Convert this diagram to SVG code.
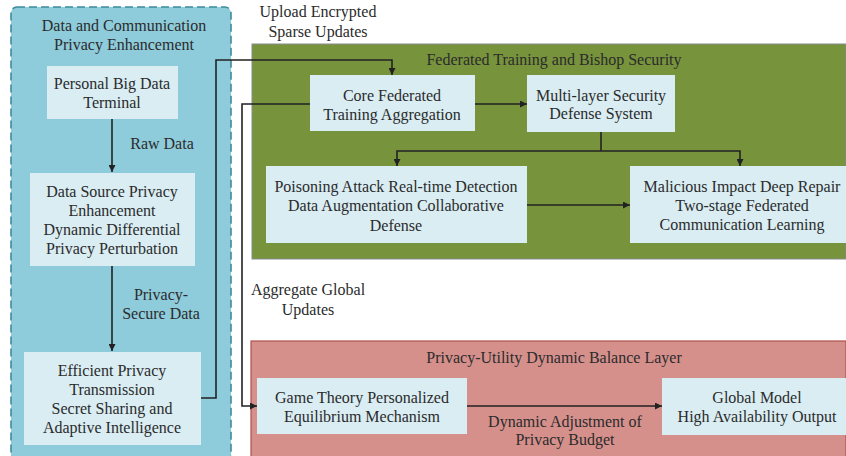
<svg xmlns="http://www.w3.org/2000/svg" width="846" height="456" viewBox="0 0 846 456">
  <style>
    text { font-family: "Liberation Serif", "Times New Roman", serif; font-size: 16px; fill: #2b2b2b; text-anchor: middle; }
    .box { fill: #d9edf3; }
    .conn { fill: none; stroke: #222; stroke-width: 1.6; }
  </style>
  <defs>
    <marker id="arr" viewBox="0 0 10 10" refX="10" refY="5" markerWidth="7" markerHeight="7" markerUnits="userSpaceOnUse" orient="auto">
      <path d="M0,0 L10,5 L0,10 z" fill="#222"/>
    </marker>
  </defs>

  <!-- Panels -->
  <g id="panel-privacy">
    <rect x="11" y="7" width="220" height="460" rx="6" fill="#8ecbdb" stroke="#3d8c9c" stroke-width="1.6" stroke-dasharray="8 4"/>
    <text x="124" y="31">Data and Communication</text>
    <text x="124" y="50">Privacy Enhancement</text>
  </g>
  <g id="panel-federated">
    <rect x="252" y="44" width="594" height="215" fill="#77933c" stroke="#8a8a8a" stroke-width="1"/>
    <text x="554" y="65">Federated Training and Bishop Security</text>
  </g>
  <g id="panel-balance">
    <rect x="251" y="341" width="595" height="118" fill="#d6908c" stroke="#b0504d" stroke-width="1.2"/>
    <text x="554" y="363">Privacy-Utility Dynamic Balance Layer</text>
  </g>

  <!-- Nodes -->
  <g id="terminal">
    <rect class="box" x="47" y="66" width="131" height="53"/>
    <text x="112" y="89">Personal Big Data</text>
    <text x="112" y="108">Terminal</text>
  </g>
  <g id="source-enhancement">
    <rect class="box" x="30" y="173" width="165" height="93"/>
    <text x="112" y="197">Data Source Privacy</text>
    <text x="112" y="216">Enhancement</text>
    <text x="112" y="235">Dynamic Differential</text>
    <text x="112" y="254">Privacy Perturbation</text>
  </g>
  <g id="transmission">
    <rect class="box" x="24" y="352" width="177" height="93"/>
    <text x="112" y="376">Efficient Privacy</text>
    <text x="112" y="395">Transmission</text>
    <text x="112" y="414">Secret Sharing and</text>
    <text x="112" y="433">Adaptive Intelligence</text>
  </g>
  <g id="aggregation">
    <rect class="box" x="310" y="75" width="165" height="56"/>
    <text x="392" y="101">Core Federated</text>
    <text x="392" y="120">Training Aggregation</text>
  </g>
  <g id="defense-system">
    <rect class="box" x="527" y="75" width="148" height="57"/>
    <text x="601" y="101">Multi-layer Security</text>
    <text x="601" y="119">Defense System</text>
  </g>
  <g id="poisoning-detection">
    <rect class="box" x="266" y="166" width="261" height="77"/>
    <text x="396" y="192">Poisoning Attack Real-time Detection</text>
    <text x="396" y="211">Data Augmentation Collaborative</text>
    <text x="396" y="231">Defense</text>
  </g>
  <g id="deep-repair">
    <rect class="box" x="630" y="166" width="216" height="77"/>
    <text x="742" y="192">Malicious Impact Deep Repair</text>
    <text x="742" y="211">Two-stage Federated</text>
    <text x="742" y="230">Communication Learning</text>
  </g>
  <g id="equilibrium">
    <rect class="box" x="257" y="378" width="210" height="56"/>
    <text x="362" y="403">Game Theory Personalized</text>
    <text x="362" y="422">Equilibrium Mechanism</text>
  </g>
  <g id="global-output">
    <rect class="box" x="662" y="378" width="184" height="57"/>
    <text x="757" y="403">Global Model</text>
    <text x="757" y="422">High Availability Output</text>
  </g>

  <!-- Connectors -->
  <g id="connectors">
    <path class="conn" d="M112,119 V172" marker-end="url(#arr)"/>
    <path class="conn" d="M112,266 V351" marker-end="url(#arr)"/>
    <path class="conn" d="M201,398 H216 V60 H392 V75" marker-end="url(#arr)"/>
    <path class="conn" d="M310,104 H242 V406 H257" marker-end="url(#arr)"/>
    <path class="conn" d="M475,104 H527" marker-end="url(#arr)"/>
    <path class="conn" d="M601,132 V151"/>
    <path class="conn" d="M601,151 H397 V166" marker-end="url(#arr)"/>
    <path class="conn" d="M601,151 H740 V166" marker-end="url(#arr)"/>
    <path class="conn" d="M527,205 H630" marker-end="url(#arr)"/>
    <path class="conn" d="M467,406 H662" marker-end="url(#arr)"/>
  </g>

  <!-- Connector labels -->
  <g id="labels">
    <text x="162" y="149">Raw Data</text>
    <text x="161" y="300">Privacy-</text>
    <text x="161" y="319">Secure Data</text>
    <text x="318" y="17">Upload Encrypted</text>
    <text x="318" y="37">Sparse Updates</text>
    <text x="308" y="295">Aggregate Global</text>
    <text x="308" y="315">Updates</text>
    <text x="565" y="427">Dynamic Adjustment of</text>
    <text x="565" y="445">Privacy Budget</text>
  </g>
</svg>
